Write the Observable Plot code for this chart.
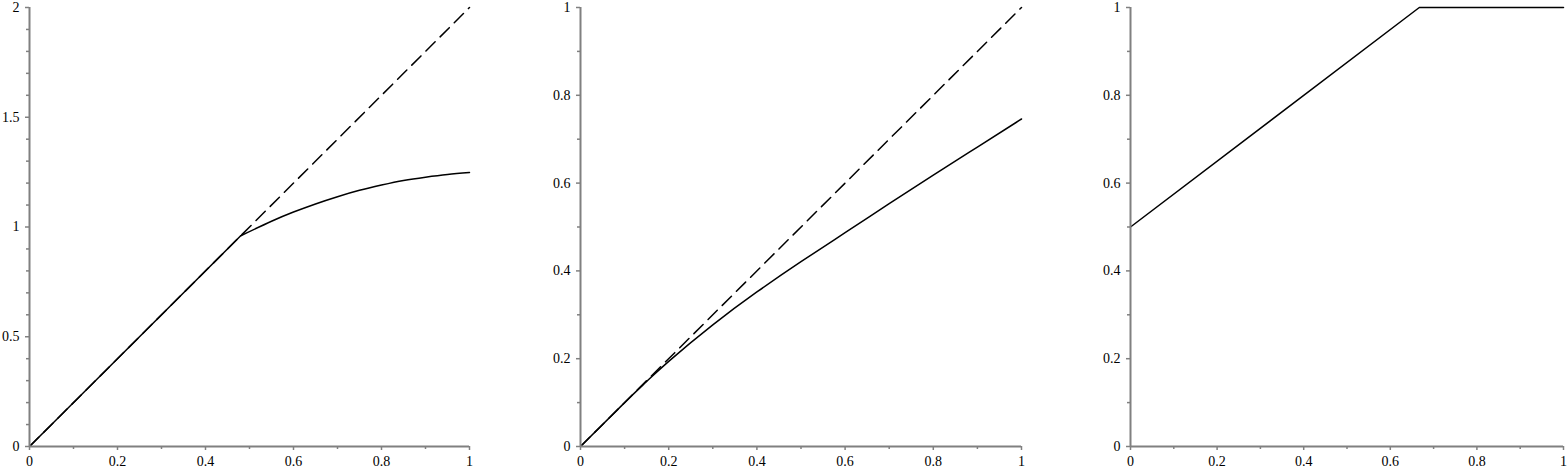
<!DOCTYPE html>
<html><head><meta charset="utf-8">
<script src="https://cdn.jsdelivr.net/npm/d3@7"></script>
<script src="https://cdn.jsdelivr.net/npm/@observablehq/plot@0.6"></script>
<style>
body{margin:0;background:#fff}
#wrap{position:relative;width:1567px;height:472px;overflow:hidden;background:#fff}
#wrap svg{position:absolute;top:0;overflow:visible}
</style>
</head><body><div id="wrap"></div>
<script>
// tick values / labels
const xMajor = [0, 0.2, 0.4, 0.6, 0.8, 1];
const xMinor = [0.1, 0.3, 0.5, 0.7, 0.9];
const y1Major = [0, 0.5, 1, 1.5, 2];
const y1Minor = [0.1, 0.2, 0.3, 0.4, 0.6, 0.7, 0.8, 0.9, 1.1, 1.2, 1.3, 1.4, 1.6, 1.7, 1.8, 1.9];
const y01Major = [0, 0.2, 0.4, 0.6, 0.8, 1];
const y01Minor = [0.1, 0.3, 0.5, 0.7, 0.9];

// panel 1
const p1StraightX = [0, 0.48];
const p1StraightY = [0, 0.96];
const p1CurveX = [0.48, 0.55, 0.6, 0.65, 0.7, 0.75, 0.8, 0.85, 0.9, 0.95, 1];
const p1CurveY = [0.96, 1.026, 1.068, 1.105, 1.138, 1.167, 1.191, 1.212, 1.227, 1.239, 1.248];
const p1DashX = [0, 1];
const p1DashY = [0, 2];

// panel 2
const p2CurveX = [0, 0.1, 0.15, 0.2, 0.3, 0.4, 0.5, 0.6, 0.7, 0.8, 0.9, 1];
const p2CurveY = [0, 0.1, 0.148, 0.194, 0.277, 0.352, 0.421, 0.487, 0.553, 0.618, 0.682, 0.746];
const p2DashX = [0, 1];
const p2DashY = [0, 1];

// panel 3
const p3X = [0, 0.667, 1];
const p3Y = [0.5, 1, 1];

const gray = "#808080";
const font = "'Liberation Serif', 'Times New Roman', serif";
const pts = (xs, ys) => xs.map((x, i) => ({x, y: ys[i]}));

function panel({left, width, marginLeft, marginRight, yDomain, yMajor, yMinor, solids, dashes}) {
  const marks = [];
  for (const d of dashes) marks.push(Plot.line(d, {x: "x", y: "y", stroke: "#000", strokeWidth: 1.5, strokeDasharray: "13,7"}));
  for (const s of solids) marks.push(Plot.line(s.data, {x: "x", y: "y", stroke: "#000", strokeWidth: 1.5, curve: s.curve || "linear"}));
  marks.push(
    Plot.ruleY([0], {stroke: gray, strokeWidth: 2}),
    Plot.ruleX([0], {stroke: gray, strokeWidth: 2}),
    Plot.axisX(xMinor, {tickSize: 3, stroke: gray, strokeWidth: 1.5, tickFormat: () => ""}),
    Plot.axisX(xMajor, {tickSize: 4, tickPadding: 6, stroke: gray, strokeWidth: 1.5, fill: "#000", fontSize: 14, fontFamily: font, tickFormat: d => String(d)}),
    Plot.axisY(yMinor, {tickSize: 3, stroke: gray, strokeWidth: 1.5, tickFormat: () => ""}),
    Plot.axisY(yMajor, {tickSize: 4, tickPadding: 6, stroke: gray, strokeWidth: 1.5, fill: "#000", fontSize: 14, fontFamily: font, tickFormat: d => String(d)})
  );
  const svg = Plot.plot({
    width, height: 472,
    marginLeft, marginRight, marginTop: 7, marginBottom: 26,
    x: {domain: [0, 1], label: null},
    y: {domain: yDomain, label: null},
    style: {fontFamily: font, fontSize: "14px", background: "transparent", color: "#000", overflow: "visible"},
    marks
  });
  svg.style.left = left + "px";
  document.getElementById("wrap").appendChild(svg);
}

panel({left: 0, width: 540, marginLeft: 29, marginRight: 71, yDomain: [0, 2], yMajor: y1Major, yMinor: y1Minor,
  solids: [{data: pts(p1StraightX, p1StraightY)}, {data: pts(p1CurveX, p1CurveY), curve: "natural"}],
  dashes: [pts(p1DashX, p1DashY)]});
panel({left: 540, width: 560, marginLeft: 40, marginRight: 79, yDomain: [0, 1], yMajor: y01Major, yMinor: y01Minor,
  solids: [{data: pts(p2CurveX, p2CurveY), curve: "natural"}],
  dashes: [pts(p2DashX, p2DashY)]});
panel({left: 1100, width: 467, marginLeft: 30, marginRight: 4, yDomain: [0, 1], yMajor: y01Major, yMinor: y01Minor,
  solids: [{data: pts(p3X, p3Y)}],
  dashes: []});
</script>
</body></html>
